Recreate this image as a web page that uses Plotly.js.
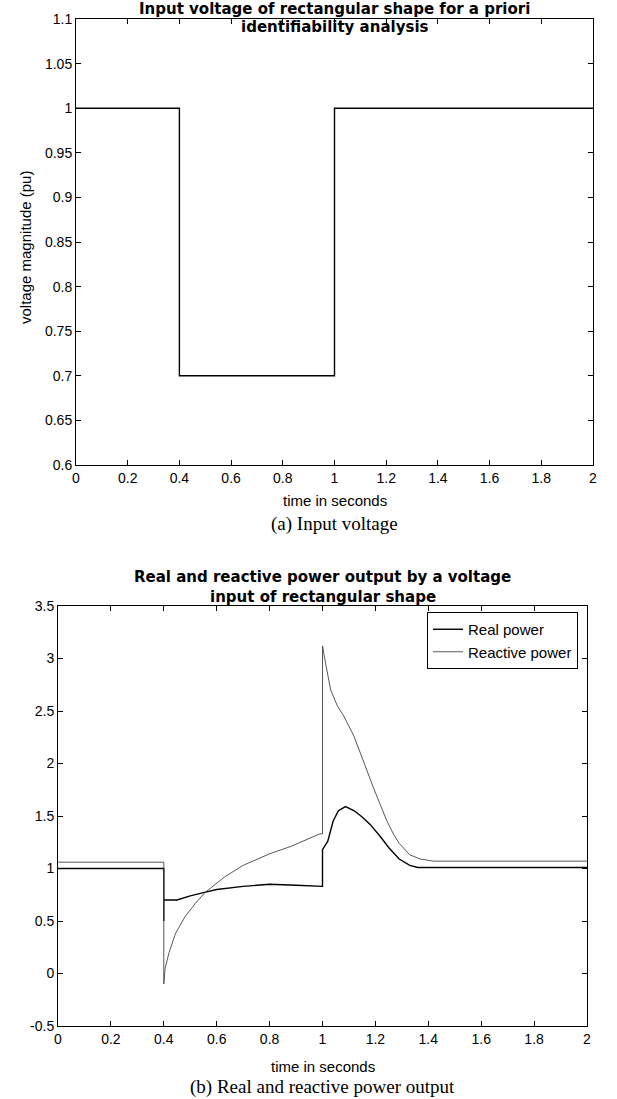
<!DOCTYPE html>
<html><head><meta charset="utf-8">
<script src="https://cdn.plot.ly/plotly-3.0.1.min.js"></script>
<style>html,body{margin:0;padding:0;background:#fff}#chart{width:617px;height:1099px}</style>
</head><body><div id="chart"></div>
<script>
// ---- data ----
const voltageTime = [0, 0.4, 0.4, 1.0, 1.0, 2.0];
const voltageMag  = [1.0, 1.0, 0.7, 0.7, 1.0, 1.0];

const realTime = [0, 0.4, 0.4, 0.4, 0.45, 0.5, 0.55, 0.6, 0.7, 0.8, 0.9, 0.99, 1.0, 1.0, 1.01, 1.02, 1.04, 1.06, 1.087, 1.12, 1.15, 1.18, 1.22, 1.25, 1.29, 1.33, 1.36, 1.4, 2.0];
const realPower = [1.0, 1.0, 0.5, 0.70, 0.70, 0.74, 0.77, 0.80, 0.83, 0.85, 0.84, 0.83, 0.83, 1.18, 1.22, 1.26, 1.45, 1.55, 1.59, 1.55, 1.49, 1.42, 1.30, 1.20, 1.09, 1.03, 1.01, 1.01, 1.01];

const reactiveTime = [0, 0.4, 0.4, 0.405, 0.42, 0.444, 0.48, 0.52, 0.555, 0.6, 0.63, 0.7, 0.8, 0.88, 0.99, 1.0, 1.0, 1.012, 1.031, 1.056, 1.081, 1.119, 1.156, 1.194, 1.244, 1.27, 1.29, 1.33, 1.37, 1.42, 2.0];
const reactivePower = [1.06, 1.06, -0.10, 0.05, 0.20, 0.38, 0.54, 0.67, 0.77, 0.86, 0.92, 1.03, 1.14, 1.21, 1.33, 1.33, 3.12, 2.95, 2.70, 2.55, 2.45, 2.26, 2.01, 1.76, 1.45, 1.32, 1.24, 1.13, 1.09, 1.07, 1.07];

const timeTicks = [0, 0.2, 0.4, 0.6, 0.8, 1, 1.2, 1.4, 1.6, 1.8, 2];
const timeTickText = ['0', '0.2', '0.4', '0.6', '0.8', '1', '1.2', '1.4', '1.6', '1.8', '2'];
const voltTicks = [0.6, 0.65, 0.7, 0.75, 0.8, 0.85, 0.9, 0.95, 1, 1.05, 1.1];
const voltTickText = ['0.6', '0.65', '0.7', '0.75', '0.8', '0.85', '0.9', '0.95', '1', '1.05', '1.1'];
const powerTicks = [-0.5, 0, 0.5, 1, 1.5, 2, 2.5, 3, 3.5];
const powerTickText = ['-0.5', '0', '0.5', '1', '1.5', '2', '2.5', '3', '3.5'];

const titleTop = ['Input voltage of rectangular shape for a priori', 'identifiability analysis'];
const titleBottom = ['Real and reactive power output by a voltage', 'input of rectangular shape'];
const xLabel = 'time in seconds';
const yLabelTop = 'voltage magnitude (pu)';
const captionTop = '(a) Input voltage';
const captionBottom = '(b) Real and reactive power output';
const seriesNames = ['Real power', 'Reactive power'];

// ---- layout helpers (pixel -> paper) ----
const W = 617, H = 1099;
const px = x => x / W;
const py = y => 1 - y / H;
const SANS = 'Liberation Sans, Arial, sans-serif';
const BOLD = 'DejaVu Sans, Liberation Sans, sans-serif';
const SERIF = 'Liberation Serif, Times New Roman, serif';

const topBox = {l: 76, r: 593, t: 19, b: 465};
const botBox = {l: 58, r: 587, t: 606, b: 1026};

function axisStyle(extra) {
  return Object.assign({
    showline: true, linecolor: '#000', linewidth: 1, mirror: 'ticks',
    ticks: 'inside', ticklen: 5, tickcolor: '#000', tickwidth: 1,
    showgrid: false, zeroline: false, tickmode: 'array',
    tickfont: {family: SANS, size: 14, color: '#000'}
  }, extra);
}

const traces = [
  {x: voltageTime, y: voltageMag, xaxis: 'x', yaxis: 'y', mode: 'lines',
   line: {color: '#000', width: 1.4}, showlegend: false, hoverinfo: 'skip'},
  {x: realTime, y: realPower, xaxis: 'x2', yaxis: 'y2', mode: 'lines', name: seriesNames[0],
   line: {color: '#000', width: 1.4}},
  {x: reactiveTime, y: reactivePower, xaxis: 'x2', yaxis: 'y2', mode: 'lines', name: seriesNames[1],
   line: {color: '#444', width: 0.9}}
];

function ann(text, x, y, size, family, extra) {
  return Object.assign({text: text, xref: 'paper', yref: 'paper', x: px(x), y: py(y),
    xanchor: 'center', yanchor: 'middle', showarrow: false,
    font: {family: family, size: size, color: '#000'}}, extra || {});
}
const topC = (topBox.l + topBox.r) / 2, botC = (botBox.l + botBox.r) / 2;

const layout = {
  width: W, height: H, margin: {l: 0, r: 0, t: 0, b: 0},
  paper_bgcolor: '#fff', plot_bgcolor: '#fff', showlegend: true,
  xaxis: axisStyle({domain: [px(topBox.l), px(topBox.r)], range: [0, 2], anchor: 'y', tickvals: timeTicks, ticktext: timeTickText}),
  yaxis: axisStyle({domain: [py(topBox.b), py(topBox.t)], range: [0.6, 1.1], anchor: 'x', tickvals: voltTicks, ticktext: voltTickText}),
  xaxis2: axisStyle({domain: [px(botBox.l), px(botBox.r)], range: [0, 2], anchor: 'y2', tickvals: timeTicks, ticktext: timeTickText}),
  yaxis2: axisStyle({domain: [py(botBox.b), py(botBox.t)], range: [-0.5, 3.5], anchor: 'x2', tickvals: powerTicks, ticktext: powerTickText}),
  legend: {x: px(578), xanchor: 'right', y: py(612), yanchor: 'top',
    bgcolor: '#fff', bordercolor: '#000', borderwidth: 1, itemwidth: 30,
    font: {family: SANS, size: 15, color: '#000'}, tracegroupgap: 0},
  annotations: [
    ann('<b>' + titleTop[0] + '</b>', topC, 9, 15, BOLD),
    ann('<b>' + titleTop[1] + '</b>', topC, 27, 15, BOLD),
    ann(xLabel, topC, 501, 15, SANS),
    ann(captionTop, topC, 524, 19, SERIF),
    ann(yLabelTop, 25, 248, 15, SANS, {textangle: -90}),
    ann('<b>' + titleBottom[0] + '</b>', botC, 577, 15, BOLD),
    ann('<b>' + titleBottom[1] + '</b>', botC, 597, 15, BOLD),
    ann(xLabel, botC, 1066, 15, SANS),
    ann(captionBottom, botC, 1087, 19, SERIF)
  ]
};

Plotly.newPlot('chart', traces, layout, {staticPlot: true, displayModeBar: false});
</script>
</body></html>
